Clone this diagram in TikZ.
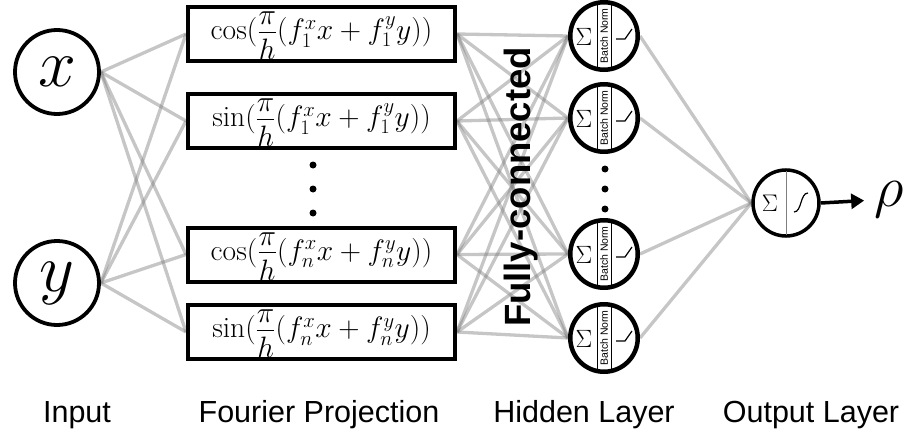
\RequirePackage{fix-cm}
\documentclass[tikz,border=0pt]{standalone}
\usepackage{amsmath}
\usepackage{fontspec}
\setsansfont{Liberation Sans}
\usetikzlibrary{arrows.meta}
\pgfdeclarelayer{bg}
\pgfsetlayers{bg,main}

% fraction pi/h with the numerator set a little closer to the bar
\newcommand{\pih}{\dfrac{\raisebox{-5pt}{$\pi$}}{h}}

\begin{document}
\begin{tikzpicture}[x=1pt,y=-1pt,
  inp/.style={circle,draw,line width=3.8pt,minimum size=84pt,inner sep=0pt,
              font=\fontsize{68}{74}\selectfont},
  fbox/.style={draw,line width=4pt,minimum width=267pt,minimum height=54pt,
               inner sep=0pt,font=\fontsize{29.5}{34}\selectfont},
  ftext/.style={yshift=-2pt},
  hid/.style={circle,draw,line width=4.5pt,minimum size=67.5pt,inner sep=0pt},
  outn/.style={circle,draw,line width=3.5pt,minimum size=66pt,inner sep=0pt},
  link/.style={draw=gray,draw opacity=0.45,line width=3.3pt},
  lbl/.style={font=\sffamily\fontsize{30.5}{36}\selectfont,anchor=base,inner sep=0pt},
  dotn/.style={circle,fill,inner sep=0pt,minimum size=7pt},
  bnorm/.style={rotate=90,font=\sffamily\fontsize{10.5}{12}\selectfont,inner sep=0pt},
  sumsym/.style={inner sep=0pt}]

\useasboundingbox (0,0) rectangle (911,436);

% inputs
\node[inp] (x) at (57,72) {$x$};
\node[inp] (y) at (57,283) {$y$};

% Fourier projection boxes (frame and formula)
\node[fbox] (f1) at (321.5,34)    {};
\node[fbox] (f2) at (321.5,121)   {};
\node[fbox] (f3) at (321.5,254.5) {};
\node[fbox] (f4) at (321.5,332)   {};
\node[fbox,draw=none,ftext] (t1) at (f1) {$\cos(\pih(f_1^x x+f_1^y y))$};
\node[fbox,draw=none,ftext] (t2) at (f2) {$\sin(\pih(f_1^x x+f_1^y y))$};
\node[fbox,draw=none,ftext] (t3) at (f3) {$\cos(\pih(f_n^x x+f_n^y y))$};
\node[fbox,draw=none,ftext] (t4) at (f4) {$\sin(\pih(f_n^x x+f_n^y y))$};

\node[dotn] (fd1) at (313,165) {};
\node[dotn] (fd2) at (313,189) {};
\node[dotn] (fd3) at (313,213) {};

% hidden layer
\node[hid] (h1) at (604,36)  {};
\node[hid] (h2) at (604,118) {};
\node[hid] (h3) at (604,254) {};
\node[hid] (h4) at (604,338) {};

\node[dotn] (hd1) at (605,169) {};
\node[dotn] (hd2) at (605,189) {};
\node[dotn] (hd3) at (605,209) {};

\foreach \n in {h1,h2,h3,h4}{
  \begin{scope}[shift={(\n.center)}]
    \draw[line width=0.8pt] (-7,-34) -- (-7,34) (7,-34) -- (7,34);
    \node[bnorm] (\n-bn) at (0,0) {Batch Norm};
    \node[sumsym,font=\fontsize{25}{27}\selectfont] (\n-sum) at (-20,1) {$\Sigma$};
    \draw[line width=1.2pt] (12,3) -- (21,3) -- (28,-7);
  \end{scope}
}

% output
\node[outn] (o) at (786,203) {};
\begin{scope}[shift={(o.center)}]
  \draw[gray,line width=1pt] (0,-32) -- (0,32);
  \node[sumsym,font=\fontsize{24}{26}\selectfont] (o-sum) at (-16,0) {$\Sigma$};
  \draw[line width=1.2pt] (8,9) .. controls (16,9) and (14,-10) .. (22,-10);
\end{scope}

\node[inner sep=0pt,font=\fontsize{58}{64}\selectfont] (rho) at (889,200) {$\rho$};
\draw[line width=3.5pt,-{Triangle[length=13pt,width=15pt]},shorten >=10pt]
  (o.east) -- (rho.west);

% rotated caption across the dense layer
\node[rotate=90,anchor=base,inner sep=0pt,
      font=\sffamily\bfseries\fontsize{36.5}{40}\selectfont] (fc) at (530,187) {Fully-connected};

% connectors
\begin{pgfonlayer}{bg}
  \foreach \a in {x,y}
    \foreach \b in {f1,f2,f3,f4}
      \draw[link] (\a.east) -- (\b.west);
  \foreach \a in {f1,f2,f3,f4}
    \foreach \b in {h1,h2,h3,h4}
      \draw[link] (\a.east) -- (\b.west);
  \foreach \b in {h1,h2,h3,h4}
    \draw[link] (\b.east) -- (o.west);
\end{pgfonlayer}

% layer captions
\node[lbl] (l1) at (77,422)  {Input};
\node[lbl] (l2) at (319,422) {Fourier Projection};
\node[lbl] (l3) at (584,422) {Hidden Layer};
\node[lbl] (l4) at (811,422) {Output Layer};

\end{tikzpicture}
\end{document}
